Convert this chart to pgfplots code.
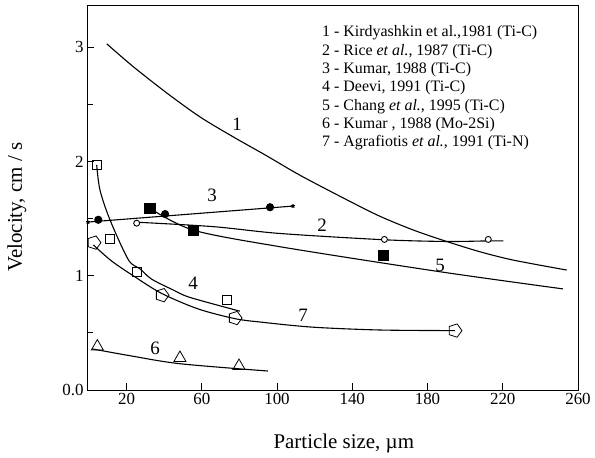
\documentclass[border=0pt]{standalone}
\usepackage{fontspec}
\setmainfont{Liberation Serif}
\usepackage{pgfplots}
\pgfplotsset{compat=1.18}

\begin{document}
\begin{tikzpicture}
\useasboundingbox (-87bp,-68bp) rectangle (508bp,390bp);
\begin{axis}[
  at={(0,0)}, anchor=south west,
  scale only axis, width=491bp, height=385bp,
  xmin=-1, xmax=260, ymin=0, ymax=3.37,
  xtick={20,60,...,260},
  ytick={0,1,2,3}, yticklabels={0.0,1,2,3},
  minor ytick={0.5,1.5,2.5},
  xtick pos=bottom, ytick pos=left,
  tick align=inside,
  major tick length=7bp, minor tick length=6bp,
  tick style={black, line width=0.8bp},
  axis line style={line width=0.9bp},
  tick label style={font=\fontsize{17}{17}\selectfont},
  /pgf/number format/assume math mode=true,
  xlabel={Particle size, µm},
  ylabel={Velocity, cm / s},
  label style={font=\fontsize{21}{21}\selectfont},
  xlabel style={at={(axis description cs:0.523,-0.14)}, anchor=center},
  ylabel style={at={(axis description cs:-0.1426,0.475)}, anchor=center},
  every axis plot/.append style={black, line width=1.1bp},
]
% 1 - Kirdyashkin
\addplot[smooth] coordinates {(9.5,3.03) (23.6,2.83) (41.4,2.60) (59.1,2.39) (76.8,2.215) (94.5,2.05) (112.2,1.88) (137.1,1.665) (154.8,1.52) (172.5,1.40) (190.2,1.30) (207.9,1.21) (225.6,1.137) (254,1.05)};
% 2 - Rice
\addplot[smooth] coordinates {(24,1.47) (66,1.43) (101.6,1.37) (157,1.315) (190.2,1.30) (212,1.305) (220.3,1.305)};
\addplot[only marks, mark=*, mark size=3bp, mark options={fill=white, line width=0.9bp}] coordinates {(25.4,1.46) (157.1,1.318) (212.3,1.318)};
% 3 - Kumar Ti-C
\addplot coordinates {(-0.5,1.47) (108.5,1.61)};
\addplot[only marks, mark=*, mark size=3.5bp] coordinates {(5.0,1.49) (40.5,1.54) (96.3,1.60)};
% 4 - Deevi
\addplot[smooth] coordinates {(4.16,1.97) (5.9,1.75) (11.2,1.49) (21.0,1.14) (27.2,1.06) (33.4,0.97) (44.9,0.875) (53.8,0.81) (80.3,0.69)};
\addplot[only marks, mark=square, mark size=4.5bp, mark options={line width=0.8bp}] coordinates {(4.2,1.97) (11.2,1.32) (25.4,1.035) (73.3,0.79)};
% 5 - Chang
\addplot[smooth] coordinates {(32.5,1.59) (55.4,1.40) (101.6,1.254) (186.7,1.035) (252,0.885)};
\addplot[only marks, mark=square*, mark size=5bp] coordinates {(32.5,1.59) (55.4,1.40) (156.5,1.181)};
% 6 - Kumar Mo-2Si
\addplot[smooth] coordinates {(1.7,0.36) (21.9,0.30) (48.4,0.23) (95.2,0.166)};
\addplot[only marks, mark=triangle, mark size=7bp, mark options={line width=0.8bp}] coordinates {(4.5,0.38) (48.4,0.28) (79.8,0.21)};
% 7 - Agrafiotis
\addplot[smooth] coordinates {(2.4,1.27) (12,1.13) (24.5,0.99) (38.7,0.845) (58,0.71) (77.5,0.625) (91,0.595) (119,0.55) (155,0.525) (194.6,0.52)};
\addplot[only marks, mark=pentagon, mark size=7bp, mark options={fill=white, line width=0.8bp, rotate=-90}] coordinates {(2.7,1.29) (38.9,0.83) (77.7,0.63) (194.6,0.52)};
\end{axis}
% curve numbers
\begin{scope}[font=\fontsize{19}{19}\selectfont]
\node at (150bp,266bp) {1};
\node at (235bp,165bp) {2};
\node at (125bp,195bp) {3};
\node at (106bp,107bp) {4};
\node at (353bp,125bp) {5};
\node at (68bp,42bp) {6};
\node at (216bp,75bp) {7};
\end{scope}
% legend text
\begin{scope}[font=\fontsize{16}{16}\selectfont, inner sep=0pt]
\node[anchor=base west] at (235bp,353bp) {1 - Kirdyashkin et al.,1981 (Ti-C)};
\node[anchor=base west] at (235bp,334.7bp) {2 - Rice \textit{et al.}, 1987 (Ti-C)};
\node[anchor=base west] at (235bp,316.3bp) {3 - Kumar, 1988 (Ti-C)};
\node[anchor=base west] at (235bp,298bp) {4 - Deevi, 1991 (Ti-C)};
\node[anchor=base west] at (235bp,279.7bp) {5 - Chang \textit{et al.}, 1995 (Ti-C)};
\node[anchor=base west] at (235bp,261.3bp) {6 - Kumar , 1988 (Mo-2Si)};
\node[anchor=base west] at (235bp,243bp) {7 - Agrafiotis \textit{et al.}, 1991 (Ti-N)};
\end{scope}
\end{tikzpicture}
\end{document}
